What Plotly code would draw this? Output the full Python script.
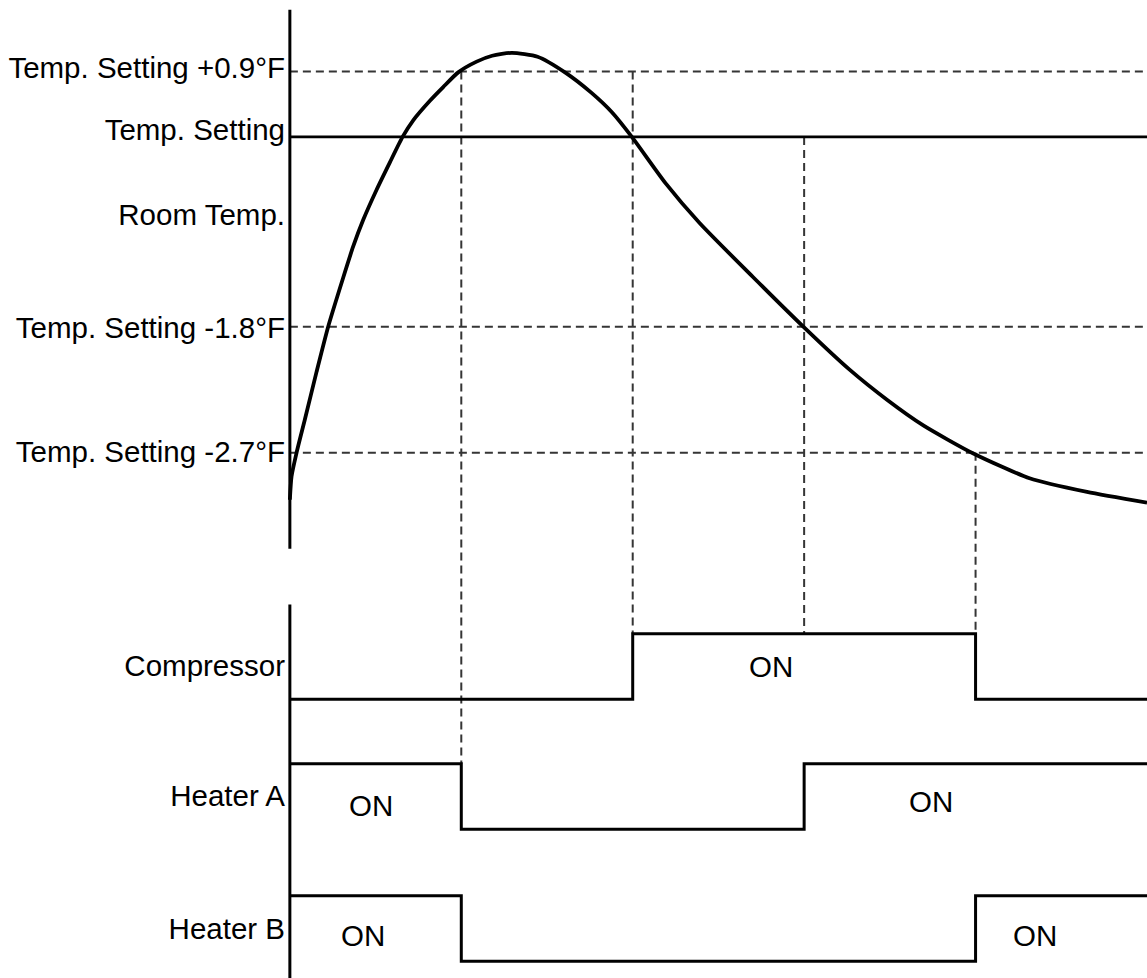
import plotly.graph_objects as go

# ---------------- data (schematic units) ----------------
# time axis: 0..100 (switching events at 20, 40, 60, 80)
curve_t = [0, 0.2, 0.78, 1.75, 3.12, 4.47, 6.22, 7.39, 8.55, 10.12, 11.67, 13.15,
           14.39, 16.34, 17.89, 19.64, 21.79, 23.6, 25.9, 28.9, 32.1, 35.2, 37.6,
           39.9, 43.8, 47.8, 54.0, 59.9, 65.3, 69.7, 73.9, 79.8, 86.3, 93.0, 100]
curve_y = [48.9, 51.3, 53.7, 57.1, 62.0, 66.6, 71.6, 74.8, 77.5, 80.6, 83.4, 86.0,
           87.7, 89.7, 91.1, 92.6, 93.7, 94.3, 94.6, 94.2, 92.6, 90.5, 88.5,
           86.0, 81.3, 77.2, 71.7, 66.6, 62.2, 59.1, 56.5, 53.6, 51.1, 49.7, 48.6]

level_names = ["Temp. Setting +0.9°F", "Temp. Setting", "Room Temp.",
               "Temp. Setting -1.8°F", "Temp. Setting -2.7°F"]
level_label_y = [93.05, 86.7, 78.07, 66.5, 53.8]
plus09 = 92.7
setting = 86.0
minus18 = 66.6
minus27 = 53.7

signal_names = ["Compressor", "Heater A", "Heater B"]
signal_label_y = [31.9, 18.66, 5.0]
signal_base = [28.5, 15.2, 1.7]
signal_amp = 6.7
event_t = [0, 20, 40, 60, 80, 100]
compressor = [0, 0, 1, 1, 0, 0]
heater_a = [1, 0, 0, 1, 1, 1]
heater_b = [1, 0, 0, 0, 1, 1]

# guide lines: (time, from level, to level)
guide_t = [20, 40, 60, 80]
guide_top = [plus09, plus09, setting, minus27]
guide_bottom = [signal_base[1] + signal_amp, signal_base[0] + signal_amp,
                signal_base[0] + signal_amp, signal_base[0] + signal_amp]

on_labels_t = [56.1, 9.45, 74.8, 8.5, 86.9]
on_labels_y = [31.9, 17.6, 18.0, 4.3, 4.3]

top_panel = [43.9, 99.0]
bottom_panel = [-1.0, 38.2]

# ---------------- figure ----------------
FONT = "Liberation Sans, Arial, sans-serif"
FSIZE = 29.5
fig = go.Figure()

dash_style = dict(color="#353535", width=2, dash="8px,5px")

# horizontal dashed threshold lines
for lv in [plus09, minus18, minus27]:
    fig.add_trace(go.Scatter(x=[0, 100], y=[lv, lv], mode="lines", line=dash_style,
                             hoverinfo="skip", showlegend=False))
# vertical dashed guide lines
for t, y0, y1 in zip(guide_t, guide_top, guide_bottom):
    fig.add_trace(go.Scatter(x=[t, t], y=[y0, y1], mode="lines", line=dash_style,
                             hoverinfo="skip", showlegend=False))
# temp setting solid line
fig.add_trace(go.Scatter(x=[0, 100], y=[setting, setting], mode="lines",
                         line=dict(color="black", width=2.8), showlegend=False))
# room temperature curve
fig.add_trace(go.Scatter(x=curve_t, y=curve_y, mode="lines",
                         line=dict(color="black", width=3.8, shape="spline", smoothing=0.6),
                         showlegend=False))
# signal step lines
for base, states in zip(signal_base, [compressor, heater_a, heater_b]):
    fig.add_trace(go.Scatter(x=event_t, y=[base + s * signal_amp for s in states],
                             mode="lines", line=dict(color="black", width=3, shape="hv"),
                             showlegend=False))
# vertical axis lines
for seg in [top_panel, bottom_panel]:
    fig.add_trace(go.Scatter(x=[0, 0], y=seg, mode="lines",
                             line=dict(color="black", width=3), showlegend=False))

for tx, ty in zip(on_labels_t, on_labels_y):
    fig.add_annotation(x=tx, y=ty, text="ON", showarrow=False,
                       font=dict(family=FONT, size=FSIZE, color="black"))

fig.update_layout(
    width=1147, height=978,
    margin=dict(l=286, r=0, t=0, b=0, pad=0),
    paper_bgcolor="white", plot_bgcolor="white",
    xaxis=dict(range=[-0.45, 100], visible=False),
    yaxis=dict(range=[0, 100], showgrid=False, zeroline=False, showline=False,
               ticks="", automargin=False,
               tickvals=level_label_y + signal_label_y,
               ticktext=level_names + signal_names,
               tickfont=dict(family=FONT, size=FSIZE, color="black")),
)

fig.write_html("out.html", config={"displayModeBar": False},
               post_script="document.body.style.margin='0';")
